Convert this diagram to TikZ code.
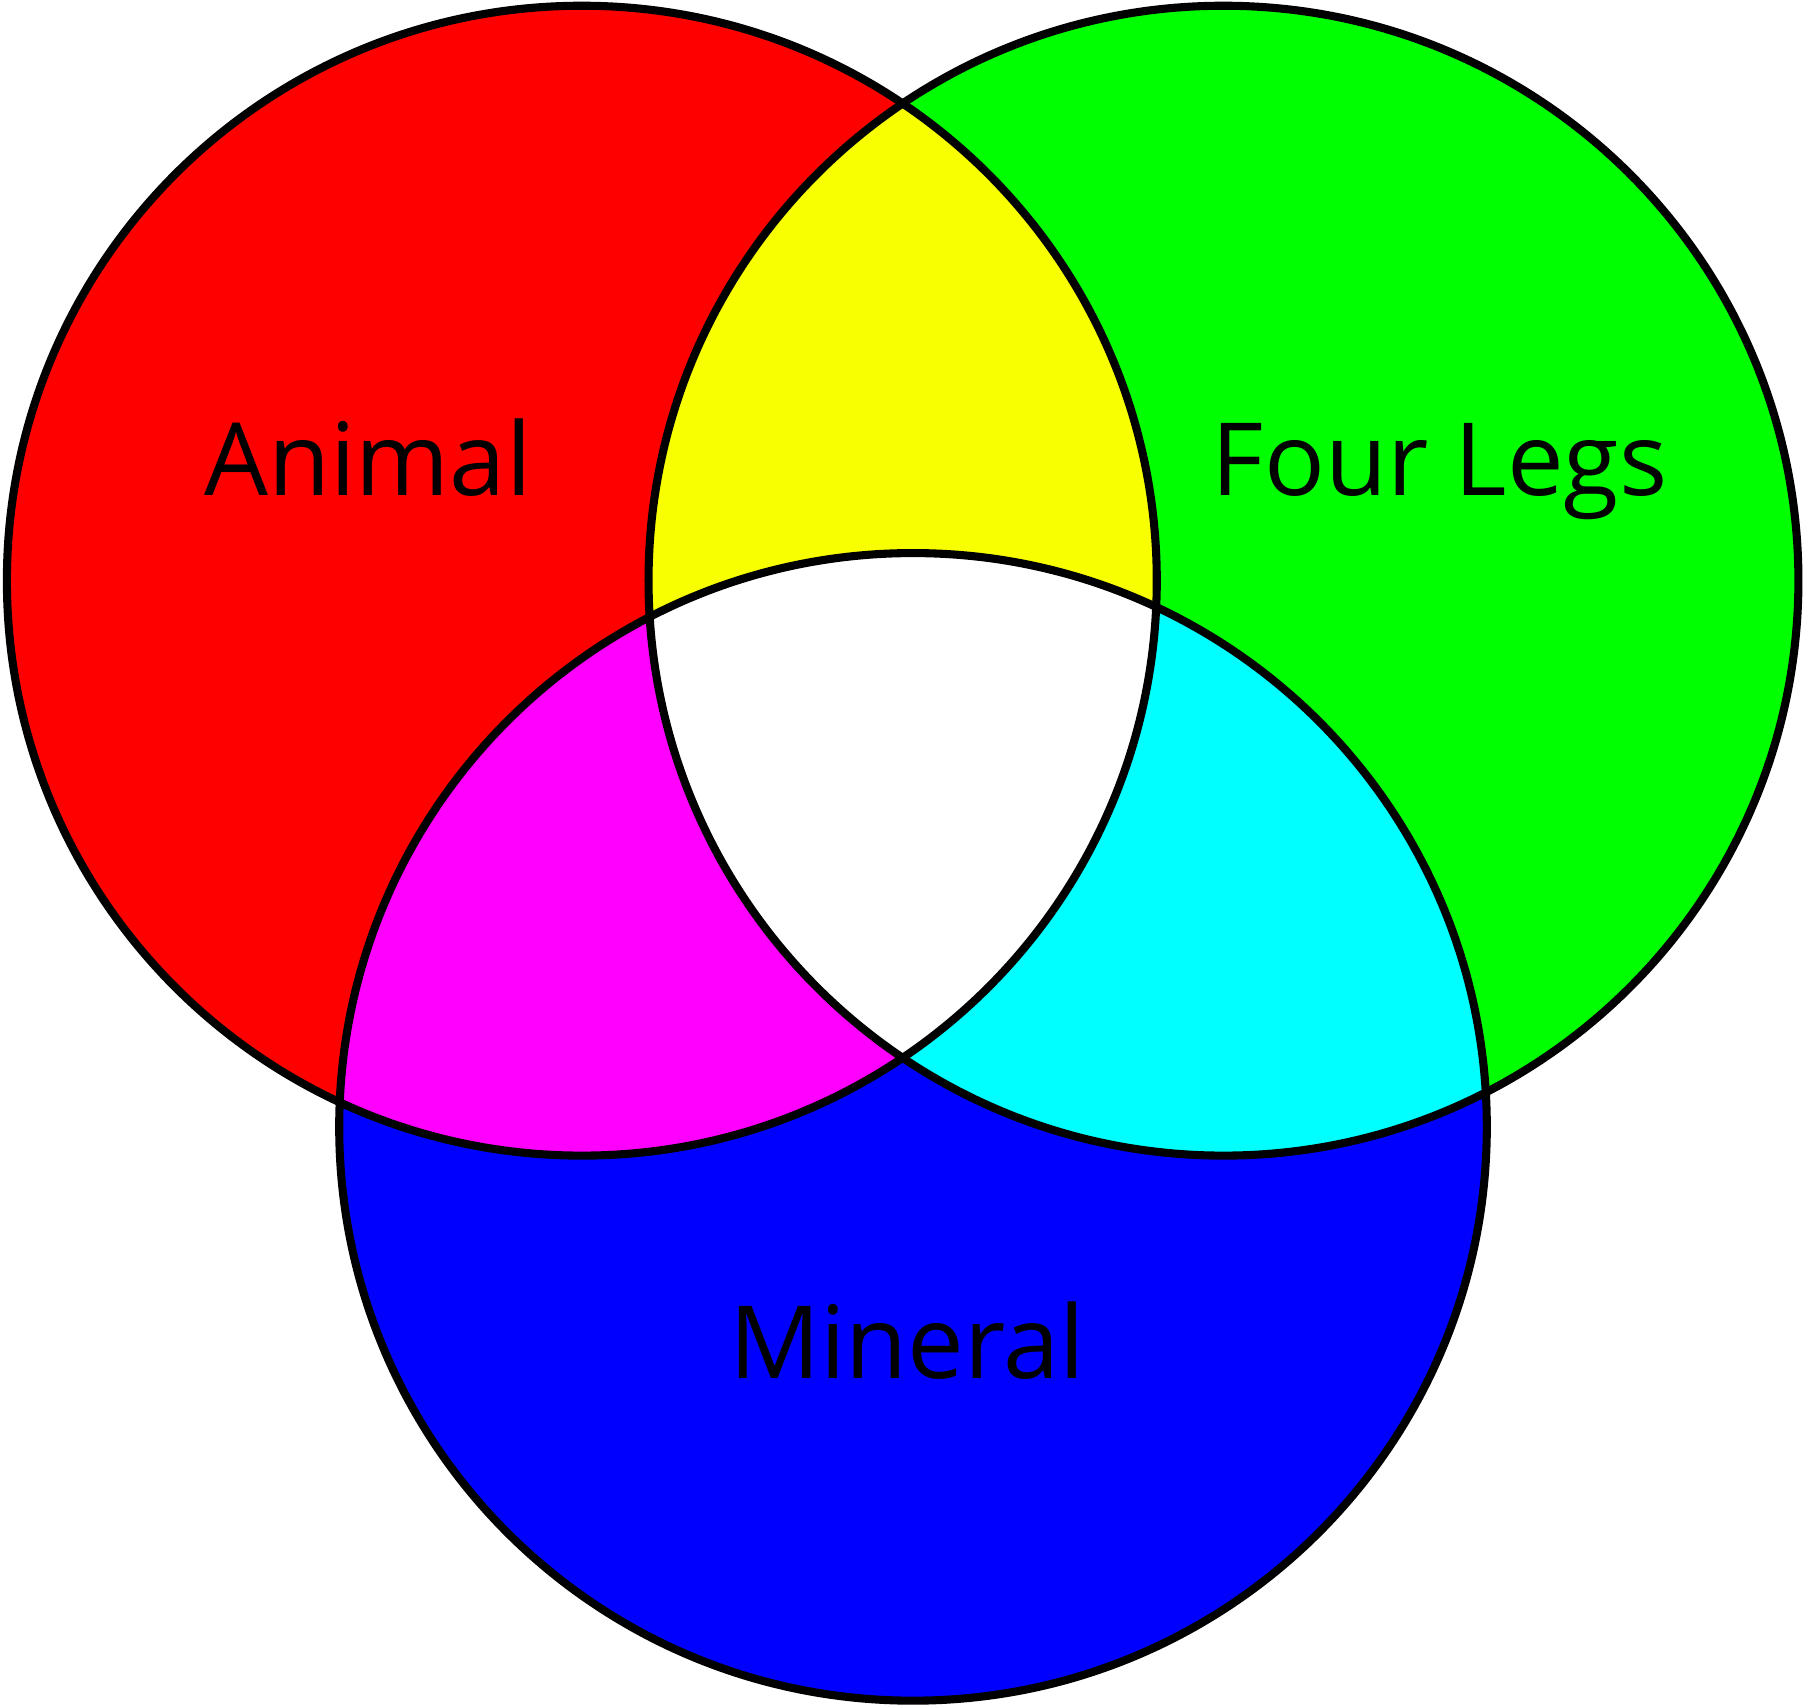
\documentclass[tikz,border=0pt]{standalone}
\usepackage{fontspec}
\setmainfont{Open Sans}
\definecolor{yel}{RGB}{247,255,0}
\definecolor{mag}{RGB}{255,0,255}
\definecolor{cya}{RGB}{0,255,255}
\definecolor{red}{RGB}{255,0,0}
\definecolor{grn}{RGB}{0,255,0}
\definecolor{blu}{RGB}{0,0,255}
\tikzset{
  ring/.style={draw=black, line width=2pt},
  label/.style={font=\fontsize{25}{28}\selectfont, anchor=base}
}
\begin{document}
\begin{tikzpicture}
    \useasboundingbox (0,0) rectangle (15.68,14.84);
    \def\animal{(5.06,9.79) circle (5.0cm)}
    \def\legs{(10.64,9.79) circle (5.0cm)}
    \def\mineral{(7.94,5.04) circle (4.99cm)}

    \fill[red] \animal;
    \fill[grn] \legs;
    \fill[blu] \mineral;

    % overlaps
    \begin{scope}
        \clip \animal;
        \fill[yel] \legs;
        \fill[mag] \mineral;
    \end{scope}
    \begin{scope}
        \clip \legs;
        \fill[cya] \mineral;
    \end{scope}
    \begin{scope}
        \clip \animal;
        \clip \legs;
        \fill[white] \mineral;
    \end{scope}

    \draw[ring] \animal;
    \draw[ring] \legs;
    \draw[ring] \mineral;

    \node[label] (animalText) at (3.20,10.53) {Animal};
    \node[label] (legsText) at (12.52,10.53) {Four Legs};
    \node[label] (mineralText) at (7.89,2.85) {Mineral};
\end{tikzpicture}
\end{document}
